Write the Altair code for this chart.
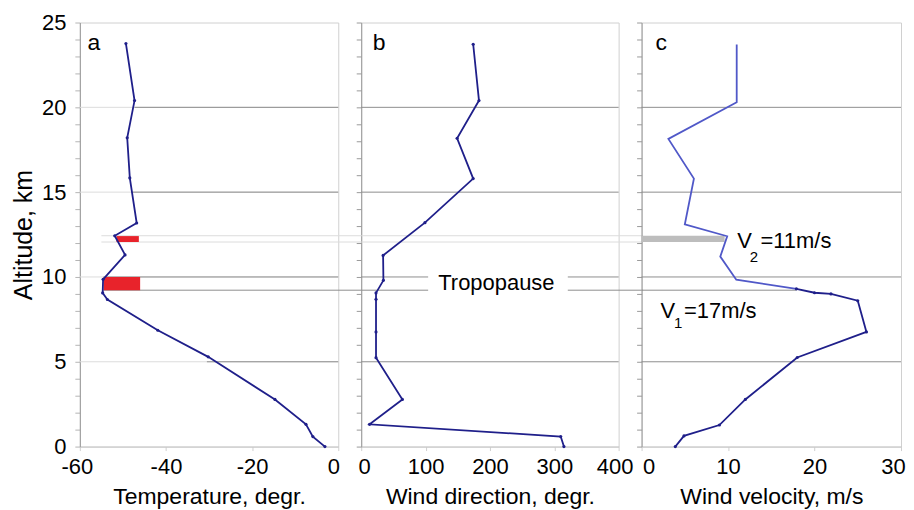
import altair as alt
import pandas as pd

FONT = "Liberation Sans"
NAVY = "#1f1f8a"
LIGHTBLUE = "#5058c8"
RED = "#e8232b"
GRIDC = "#8e8e8e"
LIGHT = "#dcdcdc"

# ---------------- data ----------------
# Panel a: temperature (deg) vs altitude (km)
temp_alt = [23.76, 20.4, 18.2, 15.84, 13.18, 12.43, 11.3, 9.86, 9.06, 8.67, 6.86, 5.29, 2.78, 1.31, 0.59, 0.0]
temp_val = [-49.3, -47.3, -49.0, -48.4, -46.8, -51.9, -49.5, -54.6, -54.7, -53.6, -41.9, -30.2, -14.7, -7.5, -5.9, -3.1]

# Panel b: wind direction (deg)
dir_alt = [23.72, 20.4, 18.18, 15.8, 13.2, 11.27, 9.8, 9.06, 8.68, 6.76, 5.24, 2.78, 1.31, 0.59, 0.0]
dir_val = [174, 183, 149, 174, 99, 34, 34.5, 23, 23, 23, 23, 64, 13, 310, 315]

# Panel c: wind velocity (m/s), upper (light) and lower (dark) parts
vel_up_alt = [23.7, 20.3, 18.14, 15.8, 13.1, 12.4, 11.2, 9.84, 9.3]
vel_up_val = [11.0, 11.0, 3.1, 6.05, 5.0, 9.9, 9.1, 10.95, 17.9]
vel_lo_alt = [9.3, 9.07, 9.0, 8.6, 6.76, 5.25, 2.78, 1.27, 0.63, 0.0]
vel_lo_val = [17.9, 20.0, 21.9, 25.0, 26.0, 18.0, 12.0, 9.0, 4.9, 3.9]

grid_alt = [5, 10, 15, 20]
temp_grid_from = [-30.5, -54.5, -48.0, -47.3]

# red inversion bars in panel a
red_t1 = [-51.5, -54.5]
red_t2 = [-46.3, -46.0]
red_a1 = [12.06, 9.22]
red_a2 = [12.41, 10.0]

tropo_alt = 9.22
shear_alts = [12.06, 12.43]
shear_bar_v = [0.0, 9.6]

alt_ticks = list(range(0, 26))
temp_ticks = [-60, -40, -20, 0]
dir_ticks = [0, 100, 200, 300, 400]
vel_ticks = [0, 10, 20, 30]

# ---------------- helpers ----------------
yscale = alt.Scale(domain=[0, 25], nice=False, zero=False, padding=0)


def yaxis(show):
    if show:
        return alt.Axis(values=alt_ticks, grid=False, tickSize=5, tickColor="#b5b5b5",
                        domainColor="#9a9a9a", labelPadding=9, labelFlush=False,
                        labelExpr="datum.value % 5 == 0 ? '' + datum.value : ''",
                        title="Altitude, km", titleFontSize=25, titlePadding=5)
    return alt.Axis(values=alt_ticks, grid=False, tickSize=5, tickColor="#9a9a9a",
                    domainColor="#9a9a9a", labels=False, title=None)


def xaxis(vals, title, shifts):
    conds = [{"test": "datum.value == %d" % v, "value": s} for v, s in shifts]
    return alt.Axis(values=vals, grid=False, tickSize=4, tickColor="#d0d0d0",
                    domainColor="#c8c8c8", labelPadding=6, title=title, titlePadding=8,
                    labelFlush=False, labelOverlap=False,
                    labelOffset={"condition": conds, "value": 0},
                    labelExpr="'' + datum.value")


def make_X(dom, vals, title, shifts):
    def X(field):
        return alt.X(field, type="quantitative",
                     scale=alt.Scale(domain=dom, nice=False, zero=False, padding=0),
                     axis=xaxis(vals, title, shifts))
    return X


def Y(field, show):
    return alt.Y(field, type="quantitative", scale=yscale, axis=yaxis(show))


def hrules(X, xs, x2s, ys, color, show):
    df = pd.DataFrame({"x": xs, "x2": x2s, "y": ys})
    return alt.Chart(df).mark_rule(color=color, strokeWidth=1).encode(
        x=X("x"), x2="x2", y=Y("y", show))


def text_layer(X, xs, ys, texts, sizes, show, align="left"):
    df = pd.DataFrame({"x": xs, "y": ys, "t": texts, "fs": sizes})
    return alt.Chart(df).mark_text(font=FONT, align=align, baseline="middle", color="black").encode(
        x=X("x"), y=Y("y", show), text="t:N",
        size=alt.Size("fs:Q", scale=None, legend=None))


def profile(X, xs, ys, color, show, points=True):
    df = pd.DataFrame({"x": xs, "y": ys, "i": range(len(xs))})
    if points:
        mk = alt.Chart(df).mark_line(color=color, strokeWidth=1.8,
                                     point=alt.OverlayMarkDef(color=color, filled=True, size=10))
    else:
        mk = alt.Chart(df).mark_line(color=color, strokeWidth=1.8)
    return mk.encode(x=X("x"), y=Y("y", show), order="i:Q")


W_A, W_B, W_C, H = 259, 258, 260, 425

# ---------------- panel a ----------------
XA = make_X([-60, 0], temp_ticks, "Temperature, degr.", [(-60, -3), (0, -5)])
a_light = hrules(XA, [-60] * 4, [0] * 4, grid_alt, LIGHT, True)
a_grid = hrules(XA, temp_grid_from, [0] * 4, grid_alt, GRIDC, True)
a_shear = hrules(XA, [-55, -55], [5.3, 5.3], shear_alts, LIGHT, True)
a_tropo = hrules(XA, [-54.5], [5.3], [tropo_alt], GRIDC, True)
red_df = pd.DataFrame({"t1": red_t1, "t2": red_t2, "a1": red_a1, "a2": red_a2})
a_red = alt.Chart(red_df).mark_rect(color=RED).encode(
    x=XA("t1"), x2="t2", y=Y("a1", True), y2="a2")
a_line = profile(XA, temp_val, temp_alt, NAVY, True)
a_lab = text_layer(XA, [-58.2], [23.8], ["a"], [23], True)
panelA = alt.layer(a_light, a_grid, a_shear, a_tropo, a_red, a_line, a_lab).properties(width=W_A, height=H)

# ---------------- panel b ----------------
XB = make_X([0, 400], dir_ticks, "Wind direction, degr.", [(0, 3), (400, -4)])
b_grid = hrules(XB, [0] * 4, [400] * 4, grid_alt, GRIDC, False)
b_shear = hrules(XB, [0, 0], [438, 438], shear_alts, LIGHT, False)
b_tropo = hrules(XB, [0], [438], [tropo_alt], GRIDC, False)
box_df = pd.DataFrame({"x1": [104], "x2": [321], "y1": [8.9], "y2": [10.4]})
b_box = alt.Chart(box_df).mark_rect(color="white").encode(
    x=XB("x1"), x2="x2", y=Y("y1", False), y2="y2")
b_line = profile(XB, dir_val, dir_alt, NAVY, False)
b_lab = text_layer(XB, [18], [23.8], ["b"], [23], False)
b_tro = text_layer(XB, [210], [9.65], ["Tropopause"], [22], False, align="center")
panelB = alt.layer(b_grid, b_shear, b_tropo, b_box, b_line, b_lab, b_tro).properties(width=W_B, height=H)

# ---------------- panel c ----------------
XC = make_X([0, 30], vel_ticks, "Wind velocity, m/s", [(0, 7), (30, -8)])
c_grid = hrules(XC, [0] * 4, [30] * 4, grid_alt, GRIDC, False)
c_tropo = hrules(XC, [0], [17.9], [tropo_alt], GRIDC, False)
bar_df = pd.DataFrame({"v1": [shear_bar_v[0]], "v2": [shear_bar_v[1]],
                       "a1": [shear_alts[0]], "a2": [shear_alts[1]]})
c_bar = alt.Chart(bar_df).mark_rect(color="#bdbdbd").encode(
    x=XC("v1"), x2="v2", y=Y("a1", False), y2="a2")
c_up = profile(XC, vel_up_val, vel_up_alt, LIGHTBLUE, False, points=False)
c_lo = profile(XC, vel_lo_val, vel_lo_alt, NAVY, False)
c_lab = text_layer(XC, [1.6], [23.8], ["c"], [23], False)
c_v = text_layer(XC, [11.05, 13.75, 2.2, 4.9],
                 [12.1, 12.1, 8.0, 8.0],
                 ["V", "=11m/s", "V", "=17m/s"], [22, 22, 22, 22], False)
c_sub = text_layer(XC, [12.5, 3.75], [11.15, 7.3], ["2", "1"], [15, 15], False)
panelC = alt.layer(c_grid, c_tropo, c_bar, c_up, c_lo, c_lab, c_v, c_sub).properties(width=W_C, height=H)

chart = alt.hconcat(panelA, panelB, panelC, spacing=23, bounds="flush").properties(
    padding={"left": 3, "top": 2, "right": 0, "bottom": 0}
).configure_view(stroke="#d0d0d0").configure_axis(
    labelFont=FONT, titleFont=FONT, labelFontSize=22, titleFontSize=23,
    titleFontWeight="normal", labelColor="black", titleColor="black"
)

chart.save("out.html", embed_options={"renderer": "svg", "actions": False})
